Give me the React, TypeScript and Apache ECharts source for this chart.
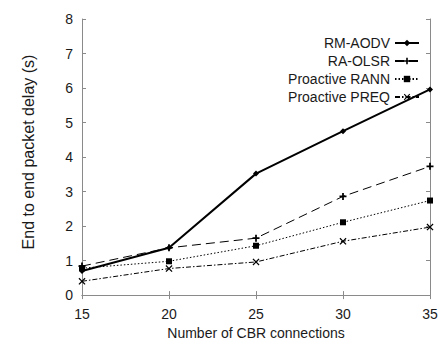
import React, { useEffect, useRef } from "react";
import * as echarts from "echarts";

const connections = [15, 20, 25, 30, 35];
const rmAodv = [0.7, 1.37, 3.52, 4.75, 5.96];
const raOlsr = [0.84, 1.37, 1.65, 2.86, 3.73];
const proactiveRann = [0.78, 0.98, 1.43, 2.11, 2.74];
const proactivePreq = [0.4, 0.77, 0.96, 1.56, 1.97];
const yTicks = [0, 1, 2, 3, 4, 5, 6, 7, 8];

const PLUS = "path://M3,0H5V3H8V5H5V8H3V5H0V3H3Z";
const CROSS = "path://M1,0L4,3L7,0L8,1L5,4L8,7L7,8L4,5L1,8L0,7L3,4L0,1Z";

const pairs = (ys: number[]) => connections.map((x, i) => [x, ys[i]]);

export default function App() {
  const ref = useRef<HTMLDivElement>(null);
  useEffect(() => {
    if (!ref.current) return;
    const chart = echarts.init(ref.current, undefined, { renderer: "svg" });
    const font = "'Liberation Sans', Arial, sans-serif";
    const axisColor = "#8a8a8a";
    const textColor = "#1a1a1a";
    const mkSeries = (
      name: string,
      data: number[],
      symbol: string,
      size: number,
      lineType: any,
      width: number
    ) => ({
      name,
      type: "line",
      data: pairs(data),
      symbol,
      symbolSize: size,
      showAllSymbol: true,
      itemStyle: { color: "#000" },
      lineStyle: { color: "#000", width, type: lineType },
    });
    chart.setOption({
      animation: false,
      backgroundColor: "#fff",
      grid: { left: 82, right: 13, top: 19, bottom: 42 },
      legend: {
        right: 18,
        top: 31,
        orient: "vertical",
        align: "right",
        itemGap: 4,
        itemWidth: 24,
        itemHeight: 8,
        textStyle: { fontFamily: font, fontSize: 14, color: textColor, padding: [0, 0, 0, 0] },
        data: ["RM-AODV", "RA-OLSR", "Proactive RANN", "Proactive PREQ"],
      },
      graphic: [
        {
          type: "text",
          x: 28,
          y: 152,
          rotation: Math.PI / 2,
          style: {
            text: "End to end packet delay (s)",
            fontFamily: font,
            fontSize: 16,
            fill: textColor,
            align: "center",
            verticalAlign: "middle",
          },
        },
      ],
      xAxis: [
        {
          type: "value",
          min: 15,
          max: 35,
          interval: 5,
          name: "Number of CBR connections",
          nameLocation: "middle",
          nameGap: 29,
          nameTextStyle: { fontFamily: font, fontSize: 14, color: textColor },
          axisLine: { lineStyle: { color: axisColor, width: 1 } },
          axisTick: { inside: true, length: 4, lineStyle: { color: axisColor } },
          axisLabel: { fontFamily: font, fontSize: 14, color: textColor, margin: 12 },
          splitLine: { show: false },
        },
        {
          type: "value",
          position: "top",
          min: 15,
          max: 35,
          interval: 5,
          axisLine: { lineStyle: { color: axisColor, width: 1 } },
          axisTick: { inside: true, length: 4, lineStyle: { color: axisColor } },
          axisLabel: { show: false },
          splitLine: { show: false },
        },
      ],
      yAxis: [
        {
          type: "value",
          min: yTicks[0],
          max: yTicks[yTicks.length - 1],
          interval: 1,
          axisLine: { show: true, lineStyle: { color: axisColor, width: 1 } },
          axisTick: { show: true, inside: true, length: 4, lineStyle: { color: axisColor } },
          axisLabel: { fontFamily: font, fontSize: 14, color: textColor, margin: 9 },
          splitLine: { show: false },
        },
        {
          type: "value",
          position: "right",
          min: yTicks[0],
          max: yTicks[yTicks.length - 1],
          interval: 1,
          axisLine: { show: true, lineStyle: { color: axisColor, width: 1 } },
          axisTick: { show: true, inside: true, length: 4, lineStyle: { color: axisColor } },
          axisLabel: { show: false },
          splitLine: { show: false },
        },
      ],
      series: [
        mkSeries("RM-AODV", rmAodv, "diamond", 6, "solid", 2),
        mkSeries("RA-OLSR", raOlsr, PLUS, 7, [9, 5], 1),
        mkSeries("Proactive RANN", proactiveRann, "rect", 6, [1.5, 2], 1),
        mkSeries("Proactive PREQ", proactivePreq, CROSS, 7, [5, 2, 1.5, 2], 1),
      ],
    });
    return () => chart.dispose();
  }, []);
  return (
    <div
      ref={ref}
      style={{ position: "fixed", left: 0, top: 0, width: 443, height: 345 }}
    />
  );
}
